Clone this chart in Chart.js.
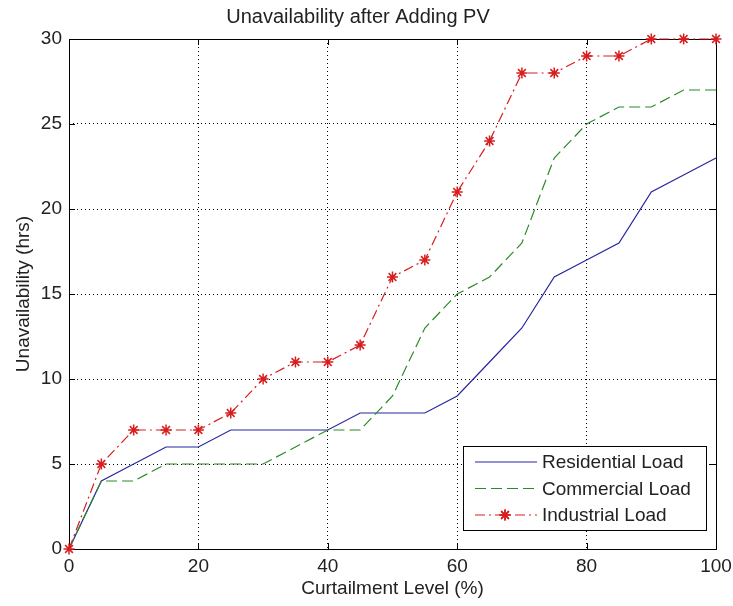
<!DOCTYPE html>
<html>
<head>
<meta charset="utf-8">
<script src="https://cdn.jsdelivr.net/npm/chart.js@4.4.0/dist/chart.umd.min.js"></script>
<style>
  html, body { margin: 0; padding: 0; background: #fff; }
</style>
</head>
<body>
<canvas id="chart" width="733" height="606"></canvas>
<script>
// Curtailment level (%) and unavailability (hrs) per load type
const curtailment = [0, 5, 10, 15, 20, 25, 30, 35, 40, 45, 50, 55, 60, 65, 70, 75, 80, 85, 90, 95, 100];
const residential = [0, 4, 5, 6, 6, 7, 7, 7, 7, 8, 8, 8, 9, 11, 13, 16, 17, 18, 21, 22, 23];
const commercial  = [0, 4, 4, 5, 5, 5, 5, 6, 7, 7, 9, 13, 15, 16, 18, 23, 25, 26, 26, 27, 27];
const industrial  = [0, 5, 7, 7, 7, 8, 10, 11, 11, 12, 16, 17, 21, 24, 28, 28, 29, 29, 30, 30, 30];

const seriesNames = ["Residential Load", "Commercial Load", "Industrial Load"];
const xTicks = [0, 20, 40, 60, 80, 100];
const yTicks = [0, 5, 10, 15, 20, 25, 30];

const FONT = "'Liberation Sans', Arial, sans-serif";
const TEXT = "#222";

const toPoints = (vals) => curtailment.map((c, i) => ({ x: c, y: vals[i] }));

// frame around the plot with inward tick marks (matlab style)
const axesBox = {
  id: "axesBox",
  beforeDatasetsDraw(chart) {
    const { ctx, chartArea: a, scales } = chart;
    const tl = 6;
    ctx.save();
    ctx.strokeStyle = "#000";
    ctx.lineWidth = 1;
    ctx.beginPath();
    xTicks.forEach((t) => {
      const px = Math.round(scales.x.getPixelForValue(t)) + 0.5;
      ctx.moveTo(px, a.bottom); ctx.lineTo(px, a.bottom - tl);
      ctx.moveTo(px, a.top); ctx.lineTo(px, a.top + tl);
    });
    yTicks.forEach((t) => {
      const py = Math.round(scales.y.getPixelForValue(t)) + 0.5;
      ctx.moveTo(a.left, py); ctx.lineTo(a.left + tl, py);
      ctx.moveTo(a.right, py); ctx.lineTo(a.right - tl, py);
    });
    ctx.stroke();
    ctx.strokeRect(Math.round(a.left) + 0.5, Math.round(a.top) + 0.5,
      Math.round(a.right - a.left), Math.round(a.bottom - a.top));
    ctx.restore();
  },
};

// legend box inside the lower right corner of the plot
const insideLegend = {
  id: "insideLegend",
  afterDraw(chart) {
    const { ctx, chartArea: a } = chart;
    const w = 243, h = 84;
    const x0 = Math.round(a.right - 10 - w), y0 = Math.round(a.bottom - 19 - h);
    ctx.save();
    ctx.fillStyle = "#fff";
    ctx.fillRect(x0, y0, w, h);
    ctx.strokeStyle = "#000";
    ctx.lineWidth = 1;
    ctx.strokeRect(x0 + 0.5, y0 + 0.5, w, h);
    ctx.font = "19px " + FONT;
    ctx.textBaseline = "middle";
    chart.data.datasets.forEach((ds, i) => {
      const cy = y0 + 16 + i * 26.5;
      ctx.strokeStyle = ds.borderColor;
      ctx.lineWidth = ds.borderWidth;
      ctx.setLineDash(ds.borderDash || []);
      ctx.beginPath();
      ctx.moveTo(x0 + 12, cy);
      ctx.lineTo(x0 + 74, cy);
      ctx.stroke();
      ctx.setLineDash([]);
      if (ds.pointRadius > 0) {
        ctx.lineWidth = ds.pointBorderWidth;
        Chart.helpers.drawPoint(ctx, { pointStyle: ds.pointStyle, radius: ds.pointRadius, borderWidth: ds.pointBorderWidth }, x0 + 42, cy);
        ctx.stroke();
      }
      ctx.fillStyle = TEXT;
      ctx.fillText(seriesNames[i], x0 + 79, cy + 1);
    });
    ctx.restore();
  },
};

new Chart(document.getElementById("chart"), {
  type: "line",
  data: {
    datasets: [
      {
        label: seriesNames[0],
        data: toPoints(residential),
        borderColor: "#2626a0",
        borderWidth: 1.2,
        pointRadius: 0,
        order: 2,
      },
      {
        label: seriesNames[1],
        data: toPoints(commercial),
        borderColor: "#2a8a2a",
        borderWidth: 1.2,
        borderDash: [11, 5],
        pointRadius: 0,
        order: 1,
      },
      {
        label: seriesNames[2],
        data: toPoints(industrial),
        borderColor: "#d81e1e",
        borderWidth: 1.2,
        borderDash: [10, 4, 2, 4],
        pointStyle: "star",
        pointRadius: 5.5,
        pointBorderWidth: 1.5,
        pointBorderColor: "#d81e1e",
        pointBackgroundColor: "#d81e1e",
        order: 0,
      },
    ],
  },
  options: {
    responsive: false,
    animation: false,
    clip: false,
    events: [],
    layout: { padding: { left: 0, right: 17, top: 0, bottom: 0 } },
    plugins: {
      legend: { display: false },
      tooltip: { enabled: false },
      title: {
        display: true,
        text: "Unavailability after Adding PV",
        color: TEXT,
        font: { family: FONT, size: 20, weight: "normal" },
        padding: { top: 5.5, bottom: 9.5 },
      },
    },
    scales: {
      x: {
        type: "linear",
        min: 0,
        max: 100,
        afterBuildTicks: (s) => { s.ticks = xTicks.map((v) => ({ value: v })); },
        afterFit: (s) => { s.height = 57; s.paddingLeft = 0; s.paddingRight = 0; },
        ticks: { color: TEXT, font: { family: FONT, size: 19 }, padding: 6, maxRotation: 0 },
        grid: { color: "#000", lineWidth: 1, drawTicks: false },
        border: { display: false, dash: [1, 3] },
        title: {
          display: true,
          text: "Curtailment Level (%)",
          color: TEXT,
          font: { family: FONT, size: 19 },
          padding: { top: 0, bottom: 6 },
        },
      },
      y: {
        type: "linear",
        min: 0,
        max: 30,
        afterBuildTicks: (s) => { s.ticks = yTicks.map((v) => ({ value: v })); },
        afterFit: (s) => { s.width = 69; s.paddingTop = 0; s.paddingBottom = 0; },
        ticks: { color: TEXT, font: { family: FONT, size: 19 }, padding: 7 },
        grid: { color: "#000", lineWidth: 1, drawTicks: false },
        border: { display: false, dash: [1, 3] },
        title: {
          display: true,
          text: "Unavailability (hrs)",
          color: TEXT,
          font: { family: FONT, size: 19 },
          padding: { top: 12, bottom: 0 },
        },
      },
    },
  },
  plugins: [axesBox, insideLegend],
});
</script>
</body>
</html>
